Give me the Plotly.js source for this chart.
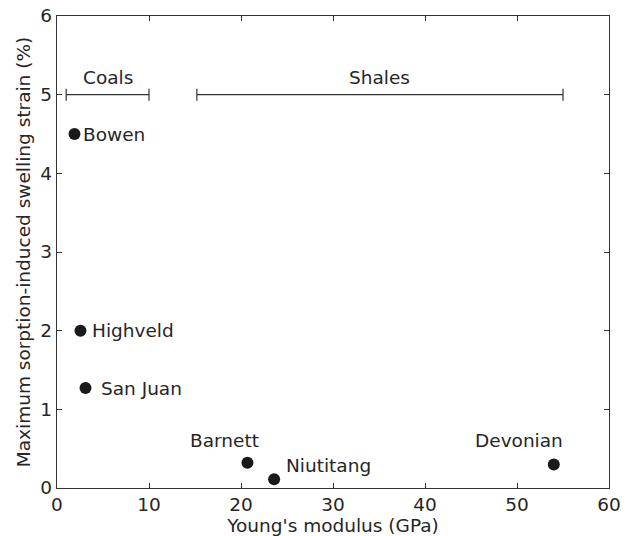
<!DOCTYPE html>
<html>
<head>
<meta charset="utf-8">
<script src="https://cdn.plot.ly/plotly-3.0.1.min.js"></script>
<style>html,body{margin:0;padding:0;background:#fff;}#chart{width:633px;height:536px;}</style>
</head>
<body>
<div id="chart"></div>
<script>
const names = ["Bowen", "Highveld", "San Juan", "Barnett", "Niutitang", "Devonian"];
const modulus = [1.9, 2.55, 3.1, 20.7, 23.6, 54.0];
const swelling = [4.5, 2.0, 1.27, 0.32, 0.11, 0.3];

const groupNames = ["Coals", "Shales"];
const groupStart = [1.0, 15.2];
const groupEnd = [10.0, 55.0];
const groupLevel = [5, 5];

const xTicks = [0, 10, 20, 30, 40, 50, 60];
const yTicks = [0, 1, 2, 3, 4, 5, 6];

// label placement (style/position, in data units)
const labelX = [2.95, 3.9, 4.9, 18.2, 25.0, 50.2];
const labelY = [4.5, 2.0, 1.27, 0.6, 0.28, 0.6];
const labelAnchor = ["left", "left", "left", "center", "left", "center"];

const txt = "#262626";
const font = {family: "DejaVu Sans, sans-serif", size: 18.5, color: txt};

const groupCenter = groupStart.map((s, i) => (s + groupEnd[i]) / 2);
const groupHalf = groupStart.map((s, i) => (groupEnd[i] - s) / 2);

const traces = [
  {
    x: groupCenter, y: groupLevel, type: "scatter", mode: "markers",
    marker: {size: 1, opacity: 0},
    error_x: {type: "data", array: groupHalf, visible: true, width: 6, thickness: 1.2, color: "#333"},
    hoverinfo: "skip", showlegend: false
  },
  {
    x: modulus, y: swelling, type: "scatter", mode: "markers",
    marker: {size: 12, color: "#1a1a1a"},
    text: names, showlegend: false
  }
];

const annotations = names.map((n, i) => ({
  x: labelX[i], y: labelY[i], text: n, showarrow: false,
  xanchor: labelAnchor[i], yanchor: "middle", font: font,
  borderpad: 0, xshift: labelAnchor[i] === "left" ? -2 : 0
})).concat(groupNames.map((g, i) => ({
  x: groupCenter[i], y: 5.22, text: g, showarrow: false,
  xanchor: "center", yanchor: "middle", font: font, borderpad: 0
})));

const axisCommon = {
  showgrid: false, zeroline: false, showline: true, mirror: "ticks",
  linecolor: "#333", linewidth: 1.2, ticks: "inside", ticklen: 5,
  tickcolor: "#333", tickwidth: 1, tickfont: font
};

const layout = {
  width: 633, height: 536,
  margin: {l: 57, r: 24, t: 16, b: 48},
  paper_bgcolor: "#fff", plot_bgcolor: "#fff",
  font: font,
  xaxis: Object.assign({}, axisCommon, {
    range: [0, 60], tickvals: xTicks, ticktext: xTicks.map(String),
    title: {text: "Young's modulus (GPa)", font: font, standoff: 2}
  }),
  yaxis: Object.assign({}, axisCommon, {
    range: [0, 6], tickvals: yTicks, ticktext: yTicks.map(String),
    title: {text: "Maximum sorption-induced swelling strain (%)", font: font, standoff: 4}
  }),
  annotations: annotations,
  showlegend: false
};

Plotly.newPlot("chart", traces, layout, {displayModeBar: false, staticPlot: true});
</script>
</body>
</html>
